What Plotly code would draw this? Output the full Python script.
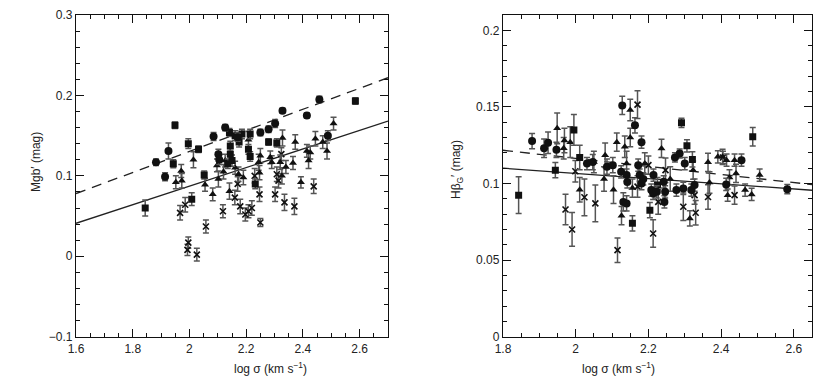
import plotly.graph_objects as go

# --- left panel: Mgb' vs log sigma  (x, y, err) -------------------------
mgb_circles = [
    (1.882, 0.117, 0.004), (1.926, 0.131, 0.010), (1.914, 0.099, 0.005),
    (2.085, 0.149, 0.005), (2.102, 0.127, 0.006), (2.126, 0.160, 0.004),
    (2.250, 0.154, 0.004), (2.279, 0.158, 0.004), (2.302, 0.165, 0.005),
    (2.328, 0.181, 0.003), (2.414, 0.175, 0.003), (2.458, 0.195, 0.004),
    (2.488, 0.150, 0.006), (2.170, 0.148, 0.005), (2.105, 0.120, 0.006),
]
mgb_squares = [
    (1.844, 0.060, 0.010), (1.943, 0.115, 0.005), (1.949, 0.163, 0.004),
    (1.996, 0.140, 0.006), (2.008, 0.071, 0.008), (2.032, 0.133, 0.004),
    (2.052, 0.101, 0.005), (2.141, 0.154, 0.005), (2.161, 0.150, 0.006),
    (2.185, 0.152, 0.006), (2.214, 0.152, 0.006), (2.144, 0.137, 0.006),
    (2.144, 0.127, 0.007), (2.150, 0.119, 0.007), (2.208, 0.133, 0.006),
    (2.279, 0.142, 0.004), (2.308, 0.141, 0.005), (2.585, 0.193, 0.004),
    (2.232, 0.090, 0.006), (2.214, 0.124, 0.006), (2.135, 0.115, 0.006),
    (2.175, 0.142, 0.006),
]
mgb_triangles = [
    (1.952, 0.092, 0.008), (1.971, 0.106, 0.008), (1.973, 0.094, 0.009),
    (2.014, 0.120, 0.010), (2.055, 0.089, 0.008), (2.082, 0.077, 0.008),
    (2.097, 0.113, 0.008), (2.102, 0.096, 0.010), (2.126, 0.119, 0.008),
    (2.161, 0.110, 0.008), (2.173, 0.102, 0.009), (2.141, 0.081, 0.010),
    (2.208, 0.145, 0.010), (2.244, 0.117, 0.010), (2.250, 0.125, 0.009),
    (2.247, 0.104, 0.009), (2.285, 0.123, 0.008), (2.290, 0.117, 0.008),
    (2.320, 0.117, 0.009), (2.326, 0.100, 0.010), (2.328, 0.147, 0.010),
    (2.340, 0.111, 0.008), (2.365, 0.116, 0.008), (2.373, 0.142, 0.009),
    (2.393, 0.092, 0.007), (2.414, 0.131, 0.008), (2.420, 0.119, 0.010),
    (2.426, 0.129, 0.008), (2.444, 0.146, 0.009), (2.470, 0.142, 0.008),
    (2.485, 0.131, 0.010), (2.508, 0.165, 0.008), (2.120, 0.105, 0.009),
    (2.190, 0.098, 0.009),
]
mgb_crosses = [
    (1.967, 0.054, 0.009), (1.985, 0.064, 0.009), (1.996, 0.017, 0.007),
    (1.993, 0.008, 0.007), (2.026, 0.002, 0.008), (2.058, 0.037, 0.008),
    (2.118, 0.056, 0.008), (2.179, 0.062, 0.009), (2.197, 0.052, 0.008),
    (2.208, 0.056, 0.008), (2.220, 0.060, 0.009), (2.250, 0.042, 0.005),
    (2.247, 0.077, 0.009), (2.302, 0.077, 0.009), (2.308, 0.102, 0.009),
    (2.314, 0.094, 0.009), (2.324, 0.127, 0.008), (2.335, 0.067, 0.010),
    (2.370, 0.062, 0.010), (2.438, 0.087, 0.009), (2.170, 0.090, 0.009),
    (2.230, 0.100, 0.009), (2.160, 0.073, 0.009),
]
mgb_fit_x = [1.6, 2.7]
mgb_dashed_y = [0.078, 0.222]
mgb_solid_y = [0.041, 0.168]

# --- right panel: Hbeta_G' vs log sigma  (x, y, err) --------------------
hb_circles = [
    (1.880, 0.1277, 0.005), (1.913, 0.1230, 0.006), (1.924, 0.1266, 0.007),
    (1.947, 0.1220, 0.005), (2.031, 0.1130, 0.004), (2.047, 0.1140, 0.005),
    (2.086, 0.1110, 0.005), (2.102, 0.1120, 0.005), (2.125, 0.1076, 0.004),
    (2.131, 0.0880, 0.006), (2.140, 0.0870, 0.005), (2.128, 0.1510, 0.006),
    (2.163, 0.1380, 0.005), (2.181, 0.1270, 0.004), (2.140, 0.1055, 0.004),
    (2.142, 0.1010, 0.004), (2.172, 0.1120, 0.004), (2.176, 0.1055, 0.004),
    (2.186, 0.1030, 0.004), (2.181, 0.1000, 0.004), (2.208, 0.0957, 0.004),
    (2.213, 0.0935, 0.004), (2.223, 0.0946, 0.004), (2.214, 0.1055, 0.004),
    (2.244, 0.0880, 0.004), (2.246, 0.0946, 0.004), (2.242, 0.1011, 0.004),
    (2.273, 0.1170, 0.003), (2.286, 0.1196, 0.003), (2.300, 0.1130, 0.004),
    (2.277, 0.0957, 0.004), (2.296, 0.0968, 0.004), (2.318, 0.0957, 0.004),
    (2.327, 0.0990, 0.004), (2.414, 0.0994, 0.004), (2.456, 0.1152, 0.004),
    (2.582, 0.0963, 0.003),
]
hb_squares = [
    (1.843, 0.0924, 0.012), (1.944, 0.1087, 0.005), (1.995, 0.1350, 0.010),
    (2.011, 0.1170, 0.008), (2.156, 0.0740, 0.005), (2.204, 0.0826, 0.005),
    (2.291, 0.1396, 0.003), (2.306, 0.1246, 0.004), (2.321, 0.1157, 0.005),
    (2.487, 0.1305, 0.006), (2.225, 0.0990, 0.005),
]
hb_triangles = [
    (1.949, 0.1360, 0.010), (1.969, 0.1280, 0.008), (1.985, 0.1270, 0.010),
    (1.967, 0.1230, 0.007), (2.011, 0.0960, 0.008), (2.078, 0.1030, 0.008),
    (2.081, 0.1185, 0.008), (2.104, 0.0960, 0.009), (2.113, 0.1270, 0.006),
    (2.126, 0.0790, 0.006), (2.135, 0.1240, 0.007), (2.140, 0.1130, 0.008),
    (2.150, 0.1300, 0.006), (2.150, 0.1480, 0.007), (2.156, 0.0970, 0.006),
    (2.236, 0.1229, 0.006), (2.323, 0.1087, 0.006), (2.314, 0.0772, 0.005),
    (2.364, 0.1138, 0.006), (2.368, 0.1007, 0.007), (2.391, 0.1174, 0.004),
    (2.404, 0.1174, 0.005), (2.415, 0.1152, 0.004), (2.418, 0.0924, 0.004),
    (2.423, 0.1040, 0.005), (2.437, 0.1152, 0.004), (2.441, 0.1066, 0.006),
    (2.466, 0.0957, 0.004), (2.484, 0.0929, 0.004), (2.506, 0.1055, 0.004),
    (2.190, 0.1130, 0.007), (2.260, 0.1030, 0.008), (2.050, 0.1140, 0.007),
]
hb_crosses = [
    (1.972, 0.0830, 0.010), (1.990, 0.0700, 0.011), (1.999, 0.1080, 0.007),
    (2.024, 0.0910, 0.012), (2.054, 0.0870, 0.012), (2.115, 0.0565, 0.008),
    (2.170, 0.1515, 0.009), (2.213, 0.0674, 0.009), (2.227, 0.0880, 0.008),
    (2.247, 0.1087, 0.008), (2.296, 0.0848, 0.009), (2.330, 0.0809, 0.008),
    (2.327, 0.0924, 0.006), (2.364, 0.0912, 0.008), (2.437, 0.0924, 0.006),
    (2.405, 0.1170, 0.004), (2.200, 0.1120, 0.006), (2.170, 0.0980, 0.007),
]
hb_fit_x = [1.8, 2.65]
hb_dashed_y = [0.1217, 0.0993]
hb_solid_y = [0.1100, 0.0956]

INK = "#111"
BAR = "#555"
FONT = "Liberation Sans, Arial, sans-serif"

MARKERS = {
    "circle": dict(symbol="circle", size=8, color=INK),
    "square": dict(symbol="square", size=7, color=INK),
    "triangle": dict(symbol="triangle-up", size=7, color=INK),
    "cross": dict(symbol="x-thin-open", size=6, color=INK, line=dict(width=1.6, color=INK)),
}


def add_group(fig, pts, kind, xa, ya):
    xs = [p[0] for p in pts]
    ys = [p[1] for p in pts]
    es = [p[2] for p in pts]
    fig.add_scatter(
        x=xs, y=ys, mode="markers", xaxis=xa, yaxis=ya, showlegend=False,
        marker=MARKERS[kind],
        error_y=dict(type="data", array=es, color=BAR, thickness=1.5, width=3),
    )


def add_fits(fig, fx, dashed, solid, xa, ya):
    fig.add_scatter(x=fx, y=dashed, mode="lines", xaxis=xa, yaxis=ya, showlegend=False,
                    line=dict(color="#222", width=1.3, dash="10px,7px"))
    fig.add_scatter(x=fx, y=solid, mode="lines", xaxis=xa, yaxis=ya, showlegend=False,
                    line=dict(color="#222", width=1.3))


fig = go.Figure()
add_fits(fig, mgb_fit_x, mgb_dashed_y, mgb_solid_y, "x", "y")
for pts, kind in [(mgb_crosses, "cross"), (mgb_triangles, "triangle"),
                  (mgb_squares, "square"), (mgb_circles, "circle")]:
    add_group(fig, pts, kind, "x", "y")

add_fits(fig, hb_fit_x, hb_dashed_y, hb_solid_y, "x2", "y2")
for pts, kind in [(hb_crosses, "cross"), (hb_triangles, "triangle"),
                  (hb_squares, "square"), (hb_circles, "circle")]:
    add_group(fig, pts, kind, "x2", "y2")

W, H = 830, 388
OFF = 8  # the page body margin shifts the figure by this many pixels


def xp(px):
    return (px - OFF) / W


def yp(py):
    return 1 - (py - OFF) / H


def axis(rng, dtick, minor_dtick, domain, anchor, standoff):
    return dict(
        range=rng, dtick=dtick, domain=domain, anchor=anchor, automargin=False,
        showgrid=False, zeroline=False, showline=True, linecolor=INK, linewidth=1.3,
        mirror="allticks", ticks="inside", ticklen=8, tickwidth=1.1, tickcolor=INK,
        minor=dict(dtick=minor_dtick, ticks="inside", ticklen=4, tickwidth=1, tickcolor=INK,
                   showgrid=False),
        ticklabelstandoff=standoff,
        tickfont=dict(family=FONT, size=12, color="#222"),
    )


fig.update_layout(
    width=W, height=H,
    margin=dict(l=0, r=0, t=0, b=0),
    paper_bgcolor="white", plot_bgcolor="white",
    xaxis=axis([1.6, 2.7], 0.2, 0.05, [xp(76), xp(388)], "y", 1),
    yaxis=axis([-0.1, 0.3], 0.1, 0.02, [yp(336.7), yp(15)], "x", 0),
    xaxis2=axis([1.8, 2.65], 0.2, 0.05, [xp(503), xp(812)], "y2", 1),
    yaxis2=axis([0, 0.21], 0.05, 0.01, [yp(336.7), yp(15)], "x2", 0),
)

title_font = dict(family=FONT, size=12, color="#222")
fig.add_annotation(x=xp(232), y=yp(358), xref="paper", yref="paper", yanchor="top",
                   text="log σ (km s<sup>−1</sup>)", showarrow=False, font=title_font)
fig.add_annotation(x=xp(657), y=yp(358), xref="paper", yref="paper", yanchor="top",
                   text="log σ (km s<sup>−1</sup>)", showarrow=False, font=title_font)
fig.add_annotation(x=xp(27), y=yp(162), xref="paper", yref="paper",
                   text="Mgb′ (mag)", textangle=-90, showarrow=False, font=title_font)
fig.add_annotation(x=xp(457), y=yp(170), xref="paper", yref="paper",
                   text="Hβ<sub>G</sub>′ (mag)", textangle=-90, showarrow=False, font=title_font)

fig.write_html("out.html")
